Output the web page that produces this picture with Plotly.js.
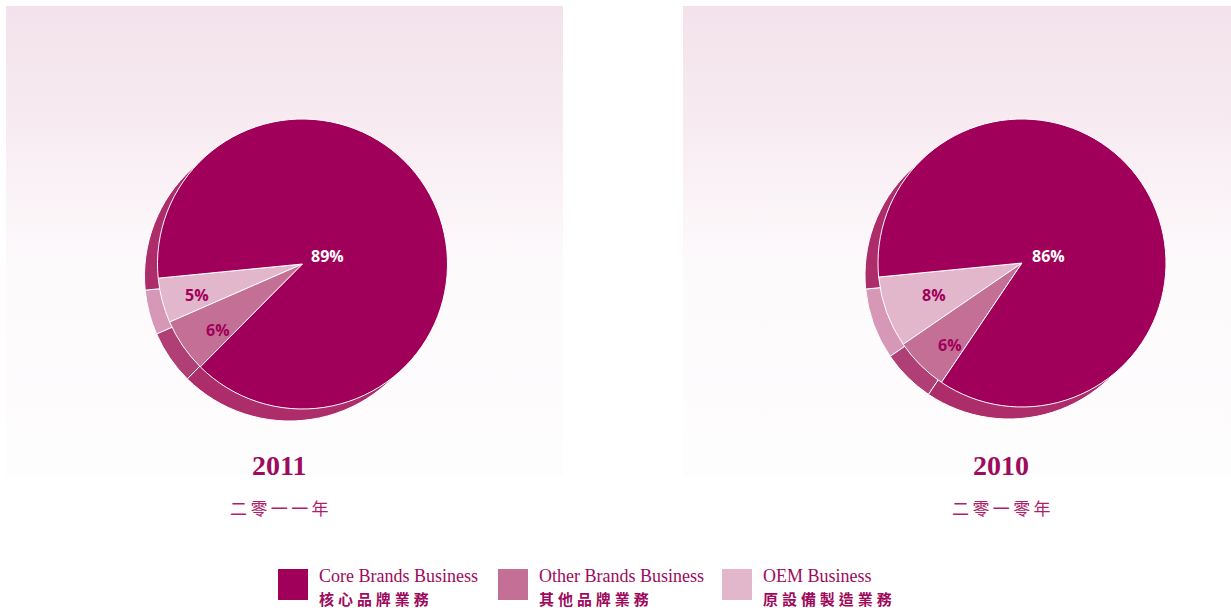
<!DOCTYPE html>
<html>
<head>
<meta charset="utf-8">
<script src="https://cdn.plot.ly/plotly-3.0.1.min.js"></script>
<style>
  html, body { margin: 0; padding: 0; background: #ffffff; }
  #wrap { position: relative; width: 1231px; height: 608px; overflow: hidden; }
  .panel { position: absolute; top: 6px; height: 470px;
    background: linear-gradient(to bottom, #f3e2eb 0%, #f7ebf1 25%, #fdfafc 55%, #fefdfe 100%); }
  #chart { position: absolute; left: 0; top: 0; width: 1231px; height: 608px; }
</style>
</head>
<body>
<div id="wrap">
  <div class="panel" style="left:6px; width:557px;"></div>
  <div class="panel" style="left:683px; width:548px;"></div>
  <div id="chart"></div>
</div>
<script>
// ---- data ----
const categories = ["OEM Business", "Other Brands Business", "Core Brands Business"];
const categoriesZh = ["原設備製造業務", "其他品牌業務", "核心品牌業務"];
const values2011 = [5, 6, 89];
const values2010 = [8, 6, 86];
const years = ["2011", "2010"];
const yearsZh = ["二零一一年", "二零一零年"];

// ---- styles ----
const topColors = ["#e2b6cb", "#c46f96", "#a0005a"];
const rimColors = ["#d698b6", "#b03f75", "#ad2d6b"];
const W = 1231, H = 608;
const px = x => x / W;
const py = y => 1 - y / H;
const spaced = (s, sep) => Array.from(s).join(sep);
function dom(cx, cy, r) {
  return { x: [px(cx - r), px(cx + r)], y: [py(cy + r), py(cy - r)] };
}
// compass angle where the first (OEM) slice begins (upper edge of OEM slice)
const START = 264.4;
const pies = [
  { vals: values2011, cx: 302.5, cy: 264, r: 145 },
  { vals: values2010, cx: 1022, cy: 263, r: 144 }
];
const shift = { dx: -13, dy: 12 };
function rotFor(vals) {
  const tot = vals.reduce((a, b) => a + b, 0);
  return START - vals[0] / tot * 360;
}

const traces = [];
pies.forEach(p => {
  traces.push({
    type: "pie", labels: categories, values: p.vals, sort: false,
    direction: "counterclockwise", rotation: rotFor(p.vals),
    domain: dom(p.cx + shift.dx, p.cy + shift.dy, p.r),
    marker: { colors: rimColors, line: { color: "#ffffff", width: 1 } },
    textinfo: "none", hoverinfo: "skip", showlegend: false
  });
});
pies.forEach(p => {
  traces.push({
    type: "pie", labels: categories, values: p.vals, sort: false,
    direction: "counterclockwise", rotation: rotFor(p.vals),
    domain: dom(p.cx, p.cy, p.r),
    marker: { colors: topColors, line: { color: "#ffffff", width: 1 } },
    textinfo: "none", hoverinfo: "label+percent", showlegend: false
  });
});

const annotations = [];
const shapes = [];
const lblFont = (c) => ({ family: "Open Sans, Noto Sans, sans-serif", size: 16, color: c });
// slice labels: [OEM, Other, Core] positions
const labelPos = [
  [[197, 295], [218, 330], [327, 256]],
  [[934, 295], [950, 345], [1048, 256]]
];
pies.forEach((p, i) => {
  p.vals.forEach((v, j) => {
    annotations.push({
      x: px(labelPos[i][j][0]), y: py(labelPos[i][j][1]), xref: "paper", yref: "paper",
      xanchor: "center", yanchor: "middle",
      text: "<b>" + v + "%</b>", showarrow: false,
      font: lblFont(j === 2 ? "#ffffff" : "#a0005a")
    });
  });
});
const yearX = [279, 1001];
years.forEach((y, i) => {
  annotations.push({
    x: px(yearX[i]), y: py(465), xref: "paper", yref: "paper", showarrow: false,
    xanchor: "center", yanchor: "middle",
    text: "<b>" + y + "</b>",
    font: { family: "Liberation Serif, Times New Roman, serif", size: 28, color: "#9e0a5c" }
  });
  annotations.push({
    x: px(yearX[i]), y: py(507), xref: "paper", yref: "paper", showarrow: false,
    xanchor: "center", yanchor: "middle",
    text: spaced(yearsZh[i], "\u2009"),
    font: { family: "Noto Sans CJK TC, sans-serif", size: 17, color: "#b01e6a" }
  });
});

// legend (Core, Other, OEM order)
const legOrder = [2, 1, 0];
const legX = [278, 498, 722];
legOrder.forEach((k, i) => {
  shapes.push({
    type: "rect", xref: "paper", yref: "paper",
    x0: px(legX[i]), x1: px(legX[i] + 30), y0: py(600), y1: py(569),
    fillcolor: topColors[k], line: { width: 0 }
  });
  annotations.push({
    x: px(legX[i] + 40), y: py(576), xref: "paper", yref: "paper", showarrow: false,
    xanchor: "left", yanchor: "middle", borderpad: 0, text: categories[k],
    font: { family: "Liberation Serif, Times New Roman, serif", size: 18, color: "#9e0a5c" }
  });
  annotations.push({
    x: px(legX[i] + 40), y: py(598), xref: "paper", yref: "paper", showarrow: false,
    xanchor: "left", yanchor: "middle", borderpad: 0,
    text: "<b>" + spaced(categoriesZh[k], "\u2009\u200a") + "</b>",
    font: { family: "Noto Sans CJK TC, sans-serif", size: 15, color: "#9e0a5c" }
  });
});

const layout = {
  width: W, height: H,
  margin: { l: 0, r: 0, t: 0, b: 0 },
  paper_bgcolor: "rgba(0,0,0,0)", plot_bgcolor: "rgba(0,0,0,0)",
  showlegend: false,
  annotations: annotations, shapes: shapes
};
Plotly.newPlot("chart", traces, layout, { displayModeBar: false, staticPlot: true });
</script>
</body>
</html>
